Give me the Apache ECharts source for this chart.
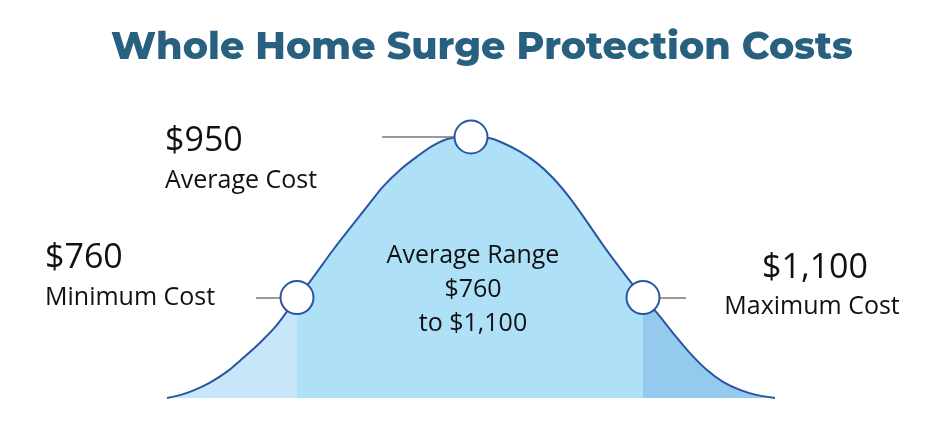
<!DOCTYPE html>
<html><head><meta charset="utf-8">
<script src="https://cdn.jsdelivr.net/npm/echarts@6/dist/echarts.min.js"></script>
<style>html,body{margin:0;padding:0;background:#fff}#c{width:940px;height:440px}</style>
</head><body><div id="c"></div>
<script>
// Curve position (abstract units along the cost axis) and relative height (peak = 100)
const curveX = [0, 13, 26, 43, 60, 76, 93, 110, 130, 143, 166, 183, 200, 216, 233, 250, 266, 283, 304, 323, 336, 353, 370, 386, 403, 420, 436, 453, 476, 490, 506, 523, 540, 556, 573, 590, 608];
const curveY = [0, 1.1, 2.8, 5.9, 10.1, 15.3, 21.2, 28.0, 38.5, 44.6, 56.7, 65.1, 73.3, 81.0, 87.4, 92.5, 96.7, 99.5, 100, 99.5, 97.7, 94.4, 90.0, 84.3, 76.6, 67.5, 58.6, 49.8, 38.5, 32.6, 24.9, 17.2, 10.7, 6.2, 3.1, 1.1, 0];
// Markers: minimum, average, maximum
const markerNames = ['Minimum Cost', 'Average Cost', 'Maximum Cost'];
const markerValues = ['$760', '$950', '$1,100'];
const markerX = [130, 304, 476];
const markerY = [38.5, 100, 38.5];
const rangeLines = ['Average Range', '$760', 'to $1,100'];

const chart = echarts.init(document.getElementById('c'));
const lineData = curveX.map((x, i) => [x, curveY[i]]);
const markerData = markerX.map((x, i) => [x, markerY[i]]);
const font = '"Open Sans", "Noto Sans", sans-serif';
const big = '34px ' + font;
const small = '25px ' + font;

chart.setOption({
  animation: false,
  title: {
    text: 'Whole Home Surge Protection Costs',
    left: 106, top: 24,
    textStyle: { fontFamily: 'Montserrat, "Open Sans", sans-serif', fontWeight: 800, fontSize: 38, color: '#28607f' }
  },
  grid: { left: 167, right: 165, top: 137, bottom: 42 },
  xAxis: { type: 'value', min: 0, max: 608, show: false },
  yAxis: { type: 'value', min: 0, max: 100, show: false },
  visualMap: {
    type: 'piecewise', show: false, dimension: 0, seriesIndex: 0,
    pieces: [
      { lt: markerX[0], color: '#c8e6f9' },
      { gte: markerX[0], lt: markerX[2], color: '#aee0f8' },
      { gte: markerX[2], color: '#94caee' }
    ]
  },
  series: [
    {
      type: 'line', data: lineData, smooth: 0.3, symbol: 'none', clip: false,
      lineStyle: { color: '#2b55a0', width: 2 },
      areaStyle: { opacity: 1 },
      z: 2
    },
    {
      type: 'scatter', data: markerData, symbolSize: 33,
      itemStyle: { color: '#ffffff', borderColor: '#2b55a0', borderWidth: 2, opacity: 1 },
      z: 5,
      markLine: {
        silent: true, symbol: 'none', label: { show: false },
        lineStyle: { color: '#777777', width: 1.5, type: 'solid' },
        data: [
          [{ coord: [markerX[0] - 41, markerY[0]] }, { coord: [markerX[0] - 15, markerY[0]] }],
          [{ coord: [markerX[1] - 89, markerY[1]] }, { coord: [markerX[1] - 16, markerY[1]] }],
          [{ coord: [markerX[2] + 17, markerY[2]] }, { coord: [markerX[2] + 43, markerY[2]] }]
        ]
      }
    }
  ],
  graphic: [
    { type: 'text', x: 165, y: 141, style: { text: markerValues[1], font: big, fill: '#111', align: 'left', verticalAlign: 'middle' } },
    { type: 'text', x: 165, y: 181, style: { text: markerNames[1], font: small, fill: '#111', align: 'left', verticalAlign: 'middle' } },
    { type: 'text', x: 45, y: 258, style: { text: markerValues[0], font: big, fill: '#111', align: 'left', verticalAlign: 'middle' } },
    { type: 'text', x: 45, y: 298, style: { text: markerNames[0], font: small, fill: '#111', align: 'left', verticalAlign: 'middle' } },
    { type: 'text', x: 815, y: 268, style: { text: markerValues[2], font: big, fill: '#111', align: 'center', verticalAlign: 'middle' } },
    { type: 'text', x: 812, y: 307, style: { text: markerNames[2], font: small, fill: '#111', align: 'center', verticalAlign: 'middle' } },
    { type: 'text', x: 473, y: 256, z: 10, style: { text: rangeLines[0], font: small, fill: '#111', align: 'center', verticalAlign: 'middle' } },
    { type: 'text', x: 473, y: 290, z: 10, style: { text: rangeLines[1], font: small, fill: '#111', align: 'center', verticalAlign: 'middle' } },
    { type: 'text', x: 473, y: 324, z: 10, style: { text: rangeLines[2], font: small, fill: '#111', align: 'center', verticalAlign: 'middle' } }
  ]
});
</script></body></html>
